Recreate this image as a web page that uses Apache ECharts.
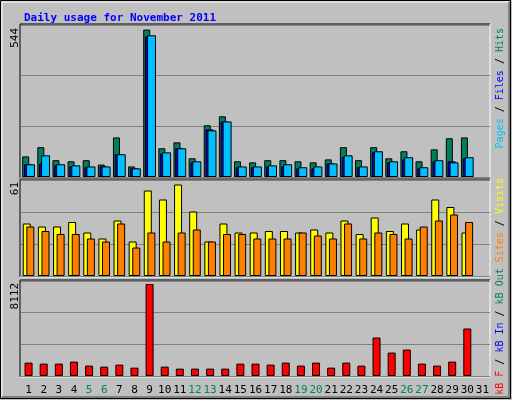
<!DOCTYPE html>
<html><head><meta charset="utf-8">
<script src="https://cdn.jsdelivr.net/npm/echarts@6/dist/echarts.min.js"></script>
<style>html,body{margin:0;padding:0;background:#c0c0c0}#c{width:512px;height:400px}</style>
</head><body><div id="c"></div>
<script>
const days = Array.from({length:31},(_,i)=>String(i+1));
const weekendDays = ['5','6','12','13','19','20','26','27'];
const hits  = [76,110,62,58,62,46,146,39,544,106,128,69,191,224,58,54,62,62,58,54,65,110,62,110,69,95,58,102,143,146,null];
const files = [47,50,43,39,36,39,84,32,519,87,106,54,176,205,36,36,39,39,32,32,50,73,36,91,54,65,32,58,58,69,null];
const pages = [47,80,47,43,39,39,84,32,523,91,106,58,172,205,39,39,43,47,36,39,50,80,39,95,58,73,36,62,54,73,null];
const visits= [35,33,33,36,29,25,37,23,57,51,61,43,23,35,29,29,30,30,29,31,29,37,28,39,30,35,31,51,46,29,null];
const sites = [33,30,28,28,25,23,35,19,29,23,29,31,23,28,28,25,25,25,29,27,25,35,25,29,28,25,33,37,41,36,null];
const kbytes= [1180,1090,1090,1270,915,826,1003,737,8112,826,649,649,649,649,1090,1090,1003,1180,915,1180,737,1180,915,3392,2065,2330,1090,915,1270,4189,null];
const maxLabels = ['544','61','8112'];

const mono = 'DejaVu Sans Mono';
const grids = [
  {left:21,width:469,top:25,height:152},
  {left:21,width:469,top:180,height:96},
  {left:21,width:469,top:281,height:95}
];
const yMax = [561,64,8376];
const xAxes = grids.map((g,i)=>({
  type:'category',data:days,gridIndex:i,boundaryGap:true,
  axisLine:{show:false},axisTick:{show:false},
  axisLabel:{show:i===2,fontFamily:mono,fontSize:11,margin:9,interval:0,
    color:(v)=>weekendDays.includes(v)?'#00805c':'#000'}
}));
const yAxes = grids.map((g,i)=>({
  type:'value',gridIndex:i,min:0,max:yMax[i],interval:yMax[i]/3,
  axisLabel:{show:false},axisLine:{show:false},axisTick:{show:false},
  splitLine:{show:true,lineStyle:{color:'#808080',width:1}}
}));
const bs = (name,data,color,w,idx,gap)=>({
  type:'bar',name,data,xAxisIndex:idx,yAxisIndex:idx,barWidth:w,barGap:gap,
  itemStyle:{color,borderColor:'#000',borderWidth:1},silent:true
});
const frames = [];
grids.forEach(g=>{
  const l=g.left-1,t=g.top-1,r=g.left+g.width,b=g.top+g.height+1;
  frames.push({type:'polyline',shape:{points:[[l,b],[l,t],[r,t]]},style:{stroke:'#000',fill:null,lineWidth:1}});
  frames.push({type:'polyline',shape:{points:[[l,b],[r,b],[r,t]]},style:{stroke:'#fff',fill:null,lineWidth:1}});
});
const vt = (x,y,rich,text)=>({type:'text',x,y,rotation:Math.PI/2,
  style:{text,rich,font:'10px '+mono,align:'right',verticalAlign:'middle',fill:'#000'}});
const rs = c=>({fill:c,fontFamily:mono,fontSize:10});
const rich = {
  h:rs('#00805c'), f:rs('#0000ff'), p:rs('#00c0ff'), v:rs('#ffff00'),
  s:rs('#ff8000'), k:rs('#ff0000'), b:rs('#0000ff'), o:rs('#00805c'), n:rs('#000')
};
const chart = echarts.init(document.getElementById('c'),null,{renderer:'canvas'});
chart.setOption({
  backgroundColor:'#c0c0c0',animation:false,
  title:{text:'Daily usage for November 2011',left:19,top:8,
    textStyle:{color:'#0000ff',fontFamily:mono,fontSize:11,fontWeight:'bold'}},
  grid:grids,xAxis:xAxes,yAxis:yAxes,
  series:[
    bs('Hits',hits,'#00805c',7,0,'-75%'),
    bs('Files',files,'#0000ff',8,0,'-75%'),
    bs('Pages',pages,'#00c0ff',9,0,'-75%'),
    bs('Visits',visits,'#ffff00',8,1,'-55%'),
    bs('Sites',sites,'#ff8000',8,1,'-55%'),
    bs('kB F',kbytes,'#ff0000',8,2,'0%')
  ],
  graphic:[
    {type:'rect',shape:{x:0.5,y:0.5,width:510,height:398},style:{fill:null,stroke:'#000',lineWidth:1}},
    {type:'polyline',shape:{points:[[2,397],[2,2],[509,2]]},style:{stroke:'#fff',fill:null,lineWidth:1}},
    {type:'polyline',shape:{points:[[2,397],[509,397],[509,2]]},style:{stroke:'#808080',fill:null,lineWidth:2}},
    ...frames,
    {type:'text',x:15,y:28,rotation:Math.PI/2,style:{text:maxLabels[0],font:'11px '+mono,align:'right',verticalAlign:'middle',fill:'#000'}},
    {type:'text',x:15,y:182,rotation:Math.PI/2,style:{text:maxLabels[1],font:'11px '+mono,align:'right',verticalAlign:'middle',fill:'#000'}},
    {type:'text',x:15,y:283,rotation:Math.PI/2,style:{text:maxLabels[2],font:'11px '+mono,align:'right',verticalAlign:'middle',fill:'#000'}},
    vt(500,28,rich,'{p|Pages}{n| / }{f|Files}{n| / }{h|Hits}'),
    vt(500,178,rich,'{k|kB F}{n| / }{b|kB In}{n| / }{o|kB Out} {s|Sites}{n| / }{v|Visits}')
  ]
});
</script></body></html>
